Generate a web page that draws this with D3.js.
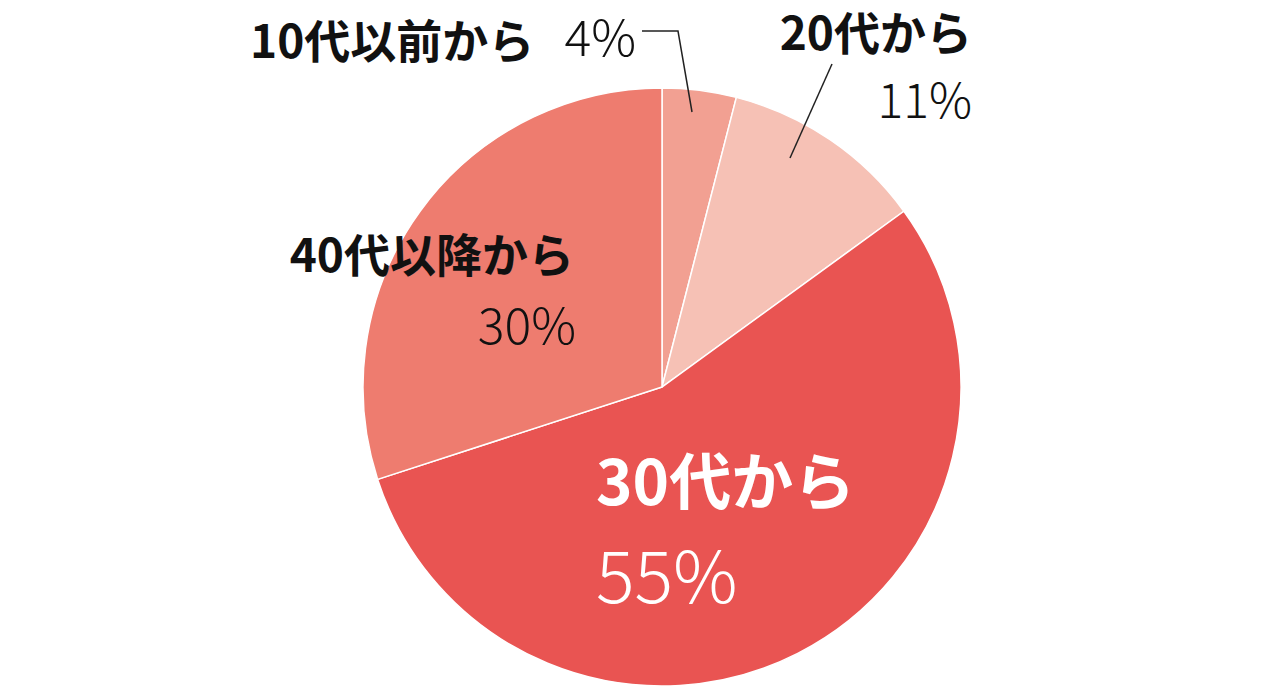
<!DOCTYPE html>
<html><head><meta charset="utf-8">
<script src="https://cdn.jsdelivr.net/npm/d3@7"></script>
<style>body{margin:0;background:#fff}text{font-family:"Noto Sans CJK JP",sans-serif}</style>
</head><body>
<svg id="c" width="1280" height="689"></svg>
<script>
const categories = ["10代以前から", "20代から", "30代から", "40代以降から"];
const values = [4, 11, 55, 30];
const colors = ["#F2A092", "#F6C1B5", "#E95452", "#EE7C6F"];

const svg = d3.select("#c");
const cx = 662, cy = 387, r = 299;

const pie = d3.pie().sort(null).value(d => d)(values);
const arc = d3.arc().innerRadius(0).outerRadius(r);

svg.append("g").attr("transform", `translate(${cx},${cy})`)
  .selectAll("path").data(pie).join("path")
  .attr("d", arc)
  .attr("fill", (d, i) => colors[i])
  .attr("stroke", "#fff").attr("stroke-width", 1.5);

// leader lines
svg.append("polyline").attr("points", "642,31 678,31 692,112")
  .attr("fill", "none").attr("stroke", "#222").attr("stroke-width", 1.5);
svg.append("line").attr("x1", 832).attr("y1", 64).attr("x2", 790).attr("y2", 158)
  .attr("stroke", "#222").attr("stroke-width", 1.5);

function label(x, y, t, size, weight, fill, anchor) {
  svg.append("text").attr("x", x).attr("y", y).text(t)
    .attr("font-size", size).attr("font-weight", weight)
    .attr("fill", fill).attr("text-anchor", anchor || "start");
}
label(250, 58, categories[0], 46, 700, "#111");
label(636, 56, values[0] + "%", 50, 300, "#111", "end");
label(972, 50, categories[1], 46, 700, "#111", "end");
label(972, 118, values[1] + "%", 48, 300, "#111", "end");
label(574, 272, categories[3], 46, 700, "#111", "end");
label(576, 344, values[3] + "%", 50, 300, "#111", "end");
label(596, 505, categories[2], 62, 700, "#fff");
label(596, 603, values[2] + "%", 72, 300, "#fff");
</script>
</body></html>
